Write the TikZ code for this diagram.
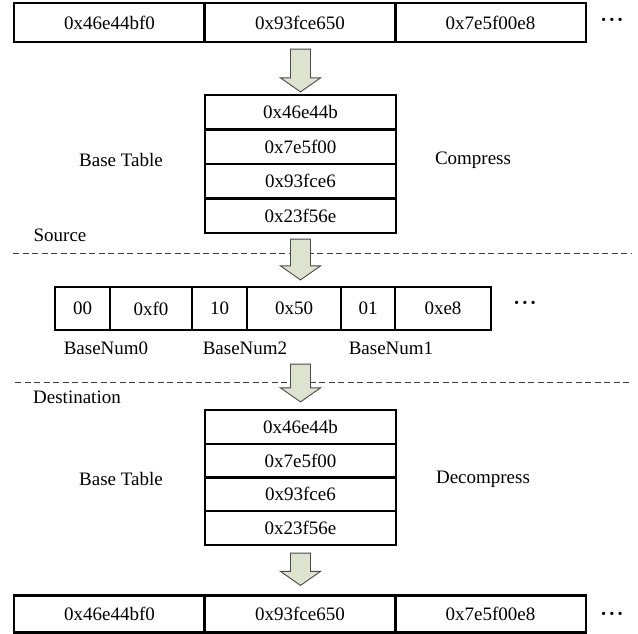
\documentclass[tikz,border=0pt]{standalone}
\usepackage{fontspec}
\setmainfont{Liberation Serif}
\usetikzlibrary{calc}

\definecolor{arrowfill}{HTML}{DDE3CF}
\definecolor{arrowline}{HTML}{4A4A4A}

% hollow block arrow pointing down: #1 = top of shaft, #2 = tip
\newcommand\fatarrow[2]{%
  \draw[blockarrow] ($(#1)+(-10,0)$) -- ($(#1)+(10,0)$) -- ($(#2)+(10,-14)$)
    -- ($(#2)+(20,-14)$) -- (#2) -- ($(#2)+(-20,-14)$) -- ($(#2)+(-10,-14)$) -- cycle;}
% continuation mark
\newcommand\moredots{·\kern1.6pt·\kern1.6pt·}

\begin{document}
\begin{tikzpicture}[x=1pt,y=-1pt,
  every node/.style={font=\fontsize{19}{22}\selectfont, inner sep=0pt},
  cell/.style={draw=black, line width=2.2pt, minimum height=#1, anchor=center},
  cell/.default=39pt,
  blockarrow/.style={draw=arrowline, line width=0.9pt, fill=arrowfill, line join=miter},
  sepline/.style={draw=black!75, line width=0.9pt, dash pattern=on 6pt off 3.5pt},
  label/.style={text=black},
  dotsmark/.style={font=\fontsize{20}{22}\selectfont\bfseries}]
\useasboundingbox (0,0) rectangle (638,634);

% ---- original words
\node[cell, minimum width=191pt] (w1) at (109.5,22.5) {0x46e44bf0};
\node[cell, minimum width=191pt] (w2) at (300,22.5) {0x93fce650};
\node[cell, minimum width=191pt] (w3) at (490.5,22.5) {0x7e5f00e8};
\node[dotsmark] (dots1) at (612,22) {\moredots};

% ---- base table (compression side)
\node[cell=34.5pt, minimum width=191pt] (b1) at (300.5,112.25) {0x46e44b};
\node[cell=34.5pt, minimum width=191pt] (b2) at (300.5,146.75) {0x7e5f00};
\node[cell=34.5pt, minimum width=191pt] (b3) at (300.5,181.25) {0x93fce6};
\node[cell=34.5pt, minimum width=191pt] (b4) at (300.5,215.75) {0x23f56e};
\node[label] (bt1) at (121,160) {Base Table};
\node[label] (comp) at (473,160) {Compress};

% ---- source / destination separators
\node[label] (src) at (60,235) {Source};
\coordinate (s1l) at (13,253);
\coordinate (s1r) at (631,253);
\draw[sepline] (s1l) -- (s1r);

% ---- compressed stream
\node[cell=43pt, minimum width=55pt] (c1) at (82.5,308.5) {00};
\node[cell=43pt, minimum width=82pt] (c2) at (151,308.5) {0xf0};
\node[cell=43pt, minimum width=55pt] (c3) at (219.5,308.5) {10};
\node[cell=43pt, minimum width=94pt] (c4) at (294,308.5) {0x50};
\node[cell=43pt, minimum width=54pt] (c5) at (368,308.5) {01};
\node[cell=43pt, minimum width=96pt] (c6) at (443,308.5) {0xe8};
\node[dotsmark] (dots2) at (525,305) {\moredots};
\node[label] (bn0) at (106,348) {BaseNum0};
\node[label] (bn2) at (245,348) {BaseNum2};
\node[label] (bn1) at (391,348) {BaseNum1};

\coordinate (s2l) at (15,382);
\coordinate (s2r) at (631,382);
\draw[sepline] (s2l) -- (s2r);
\node[label] (dst) at (77,397) {Destination};

% ---- base table (decompression side)
\node[cell=33.75pt, minimum width=191pt] (d1) at (300.5,426.875) {0x46e44b};
\node[cell=33.75pt, minimum width=191pt] (d2) at (300.5,460.625) {0x7e5f00};
\node[cell=33.75pt, minimum width=191pt] (d3) at (300.5,494.375) {0x93fce6};
\node[cell=33.75pt, minimum width=191pt] (d4) at (300.5,528.125) {0x23f56e};
\node[label] (bt2) at (121,479) {Base Table};
\node[label] (decomp) at (483,479) {Decompress};

% ---- restored words
\node[cell=37pt, minimum width=191pt] (r1) at (109.5,614) {0x46e44bf0};
\node[cell=37pt, minimum width=191pt] (r2) at (300,614) {0x93fce650};
\node[cell=37pt, minimum width=191pt] (r3) at (490.5,614) {0x7e5f00e8};
\node[dotsmark] (dots3) at (612,616) {\moredots};

% ---- flow arrows
\coordinate (a1s) at ($(w2.south)+(0.5,6)$);
\coordinate (a1e) at ($(b1.north)+(0,-2)$);
\fatarrow{a1s}{a1e}
\coordinate (a2s) at ($(b4.south)+(0,5)$);
\coordinate (a2e) at ($(c4.north -| b4.south)+(0,-6)$);
\fatarrow{a2s}{a2e}
\coordinate (a3s) at ($(c4.south -| b4.south)+(0,33)$);
\coordinate (a3e) at ($(d1.north)+(0,-7)$);
\fatarrow{a3s}{a3e}
\coordinate (a4s) at ($(d4.south)+(0,7)$);
\coordinate (a4e) at ($(r2.north -| d4.south)+(0,-9)$);
\fatarrow{a4s}{a4e}
\end{tikzpicture}
\end{document}
